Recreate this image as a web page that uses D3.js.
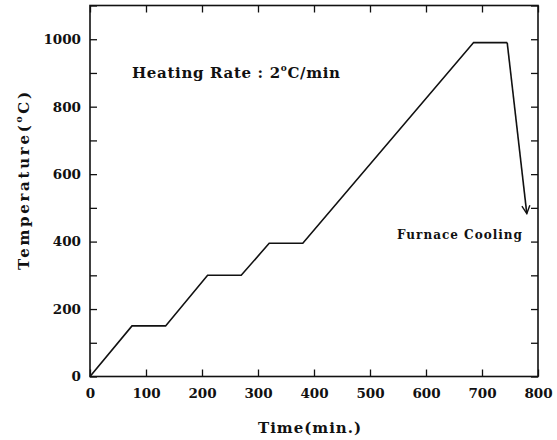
<!DOCTYPE html>
<html>
<head>
<meta charset="utf-8">
<script src="https://cdn.jsdelivr.net/npm/d3@7"></script>
<style>
	body { margin: 0; background: #fff; }
	svg { display: block; }
	.tick text { font: bold 13.5px "DejaVu Serif", serif; fill: #111; }
</style>
</head>
<body>
<div id="chart"></div>
<script>
'use strict';

// heating schedule
const TIME_MIN = [0, 75, 135, 210, 270, 320, 380, 685, 745];
const TEMP_C = [0, 150, 150, 300, 300, 395, 395, 990, 990];
// furnace cooling arrow (start at end of hold, tip where the arrow stops)
const COOL_TIME = [745, 780];
const COOL_TEMP = [990, 483];

const X_TICKS = [0, 100, 200, 300, 400, 500, 600, 700, 800];
const Y_TICKS = [0, 100, 200, 300, 400, 500, 600, 700, 800, 900, 1000, 1100];
const Y_LABELS = [0, 200, 400, 600, 800, 1000];

const W = 557, H = 440;
const margin = { left: 90, top: 5.5, right: 19, bottom: 63.5 };
const TICK = 7;
const FONT = '"DejaVu Serif", serif';

const svg = d3.select("#chart").append("svg")
	.attr("width", W)
	.attr("height", H);

const x = d3.scaleLinear().domain([0, 800]).range([margin.left, W - margin.right]);
const y = d3.scaleLinear().domain([0, 1100]).range([H - margin.bottom, margin.top]);

// axes: ticks point into the plot, labels only on bottom and left
svg.append("g")
	.attr("transform", `translate(0,${y(0)})`)
	.call(d3.axisBottom(x).tickValues(X_TICKS).tickSize(-TICK).tickPadding(12))
	.call(g => g.select(".domain").remove());

svg.append("g")
	.attr("transform", `translate(0,${y(1100)})`)
	.call(d3.axisTop(x).tickValues(X_TICKS).tickSize(-TICK).tickFormat(""))
	.call(g => g.select(".domain").remove());

svg.append("g")
	.attr("transform", `translate(${x(0)},0)`)
	.call(d3.axisLeft(y).tickValues(Y_TICKS).tickSize(-TICK).tickPadding(9)
		.tickFormat(d => Y_LABELS.includes(d) ? d : ""))
	.call(g => g.select(".domain").remove());

svg.append("g")
	.attr("transform", `translate(${x(800)},0)`)
	.call(d3.axisRight(y).tickValues(Y_TICKS).tickSize(-TICK).tickFormat(""))
	.call(g => g.select(".domain").remove());

svg.selectAll(".tick line").attr("stroke", "#111").attr("stroke-width", 1.3);

// frame
svg.append("rect")
	.attr("x", x(0))
	.attr("y", y(1100))
	.attr("width", x(800) - x(0))
	.attr("height", y(0) - y(1100))
	.attr("fill", "none")
	.attr("stroke", "#111")
	.attr("stroke-width", 1.6);

// schedule line
const line = d3.line()
	.x(d => x(d[0]))
	.y(d => y(d[1]));

svg.append("path")
	.datum(d3.zip(TIME_MIN, TEMP_C))
	.attr("d", line)
	.attr("fill", "none")
	.attr("stroke", "#111")
	.attr("stroke-width", 1.6)
	.attr("stroke-linejoin", "miter");

svg.append("defs").append("marker")
	.attr("id", "arrow")
	.attr("viewBox", "0 0 10 10")
	.attr("refX", 9)
	.attr("refY", 5)
	.attr("markerWidth", 10)
	.attr("markerHeight", 10)
	.attr("markerUnits", "userSpaceOnUse")
	.attr("orient", "auto")
	.append("path")
		.attr("d", "M1,1 L9,5 L1,9")
		.attr("fill", "none")
		.attr("stroke", "#111")
		.attr("stroke-width", 1.4);

svg.append("path")
	.datum(d3.zip(COOL_TIME, COOL_TEMP))
	.attr("d", line)
	.attr("fill", "none")
	.attr("stroke", "#111")
	.attr("stroke-width", 1.6)
	.attr("marker-end", "url(#arrow)");

// annotations
function degText(sel, before, after, size) {
	sel.append("tspan").text(before);
	sel.append("tspan").text("o").attr("font-size", size * 0.6).attr("dy", -size * 0.45);
	sel.append("tspan").text(after).attr("dy", size * 0.45);
}

const heat = svg.append("text")
	.attr("x", 132)
	.attr("y", 78)
	.attr("font-family", FONT)
	.attr("font-weight", "bold")
	.attr("font-size", 15)
	.attr("fill", "#111")
	.attr("textLength", 208)
	.attr("lengthAdjust", "spacing");
degText(heat, "Heating Rate : 2", "C/min", 15);

svg.append("text")
	.attr("x", 397)
	.attr("y", 239)
	.attr("font-family", FONT)
	.attr("font-weight", "bold")
	.attr("font-size", 12)
	.attr("fill", "#111")
	.attr("textLength", 125)
	.attr("lengthAdjust", "spacing")
	.text("Furnace Cooling");

svg.append("text")
	.attr("x", 309.5)
	.attr("y", 433)
	.attr("text-anchor", "middle")
	.attr("font-family", FONT)
	.attr("font-weight", "bold")
	.attr("font-size", 15)
	.attr("fill", "#111")
	.attr("textLength", 103)
	.attr("lengthAdjust", "spacing")
	.text("Time(min.)");

const ylab = svg.append("text")
	.attr("transform", "translate(29,181) rotate(-90)")
	.attr("text-anchor", "middle")
	.attr("font-family", FONT)
	.attr("font-weight", "bold")
	.attr("font-size", 15)
	.attr("fill", "#111")
	.attr("textLength", 178)
	.attr("lengthAdjust", "spacing");
degText(ylab, "Temperature(", "C)", 15);
</script>
</body>
</html>
